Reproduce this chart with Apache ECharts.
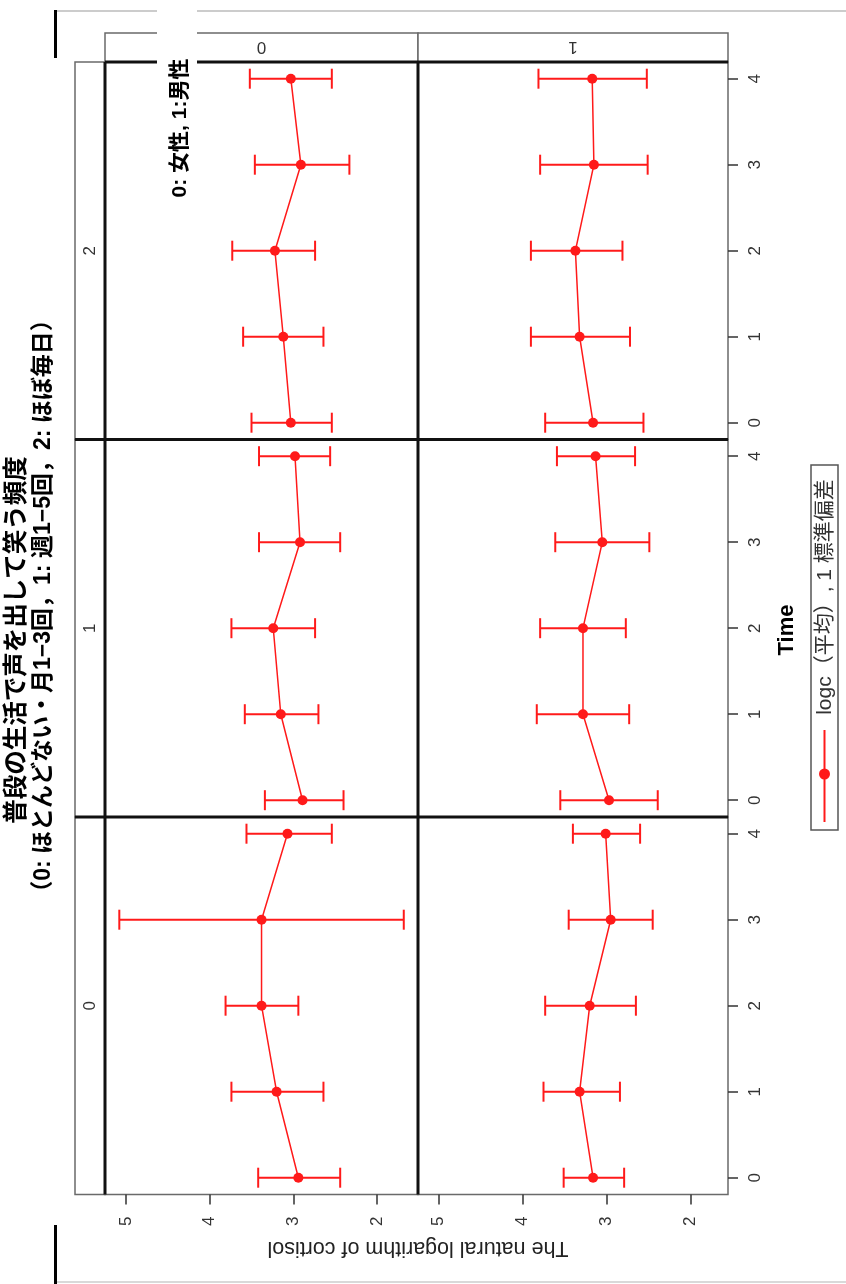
<!DOCTYPE html>
<html><head><meta charset="utf-8">
<script src="https://cdn.jsdelivr.net/npm/echarts@6/dist/echarts.min.js"></script>
<style>html,body{margin:0;padding:0;background:#fff}#c{width:846px;height:1284px}</style>
</head><body><div id="c"></div>
<script>
// ---- data ----
const times = [0, 1, 2, 3, 4];
const sexLabels = ['0', '1'];
const laughLabels = ['2', '1', '0']; // panel rows, top to bottom

// laugh = 2
const mean_l2_s0  = [3.03, 3.12, 3.22, 2.91, 3.03];
const lower_l2_s0 = [2.54, 2.64, 2.74, 2.33, 2.54];
const upper_l2_s0 = [3.50, 3.60, 3.73, 3.46, 3.52];
const mean_l2_s1  = [3.16, 3.32, 3.37, 3.15, 3.17];
const lower_l2_s1 = [2.56, 2.72, 2.81, 2.51, 2.52];
const upper_l2_s1 = [3.73, 3.90, 3.90, 3.79, 3.81];
// laugh = 1
const mean_l1_s0  = [2.89, 3.15, 3.24, 2.92, 2.98];
const lower_l1_s0 = [2.40, 2.70, 2.74, 2.44, 2.56];
const upper_l1_s0 = [3.34, 3.58, 3.74, 3.41, 3.41];
const mean_l1_s1  = [2.97, 3.28, 3.28, 3.05, 3.13];
const lower_l1_s1 = [2.39, 2.73, 2.77, 2.49, 2.66];
const upper_l1_s1 = [3.55, 3.83, 3.79, 3.61, 3.59];
// laugh = 0
const mean_l0_s0  = [2.94, 3.20, 3.38, 3.38, 3.07];
const lower_l0_s0 = [2.44, 2.64, 2.94, 1.68, 2.54];
const upper_l0_s0 = [3.42, 3.74, 3.81, 5.08, 3.56];
const mean_l0_s1  = [3.16, 3.32, 3.20, 2.95, 3.01];
const lower_l0_s1 = [2.79, 2.84, 2.65, 2.45, 2.60];
const upper_l0_s1 = [3.51, 3.75, 3.73, 3.45, 3.40];

const titleLine1 = '普段の生活で声を出して笑う頻度';
const titleLine2 = '（0: ほとんどない・月1−3回，1: 週1−5回，2: ほぼ毎日）';
const sexNote = '0: 女性, 1:男性';
const xTitle = 'Time';
const yTitle = 'The natural logarithm of cortisol';
const legendText = 'logc（平均）, 1 標準偏差';

// ---- layout ----
const panels = [
  [mean_l2_s0, lower_l2_s0, upper_l2_s0], [mean_l2_s1, lower_l2_s1, upper_l2_s1],
  [mean_l1_s0, lower_l1_s0, upper_l1_s0], [mean_l1_s1, lower_l1_s1, upper_l1_s1],
  [mean_l0_s0, lower_l0_s0, upper_l0_s0], [mean_l0_s1, lower_l0_s1, upper_l0_s1]
];
const RED = '#ff1a1a';
const FONT = '"Liberation Sans", "Noto Sans CJK JP", sans-serif';
// panel frames
const frameX = [105, 418], frameW = [313, 310];
const frameY = [62, 439.5, 817], frameH = 377.5;
// plotting areas (value 5..2 horizontally, time 4..0 vertically)
const gridX = [126, 438.5], gridW = [251, 252];
const gridPadTop = 16.7, gridH = 344;

const grid = [], xAxis = [], yAxis = [], series = [];
for (let r = 0; r < 3; r++) {
  for (let c = 0; c < 2; c++) {
    const gi = r * 2 + c;
    const gTop = frameY[r] + gridPadTop;
    grid.push({left: gridX[c], top: gTop, width: gridW[c], height: gridH, show: false});
    xAxis.push({gridIndex: gi, type: 'value', min: 2, max: 5, interval: 1, inverse: true,
      position: 'bottom', offset: (frameY[r] + frameH) - (gTop + gridH),
      axisLine: {show: false, onZero: false}, splitLine: {show: false},
      axisTick: {show: r === 2, length: 10, lineStyle: {color: '#333', width: 1.5}},
      axisLabel: {show: r === 2, rotate: 90, fontSize: 17, color: '#333', margin: 22, fontFamily: FONT}});
    yAxis.push({gridIndex: gi, type: 'value', min: 0, max: 4, interval: 1, position: 'right',
      offset: (frameX[c] + frameW[c]) - (gridX[c] + gridW[c]),
      axisLine: {show: false, onZero: false}, splitLine: {show: false},
      axisTick: {show: c === 1, length: 10, lineStyle: {color: '#333', width: 1.5}},
      axisLabel: {show: c === 1, rotate: 90, fontSize: 17, color: '#333', margin: 19, fontFamily: FONT}});
    const [m, lo, hi] = panels[gi];
    series.push({type: 'custom', xAxisIndex: gi, yAxisIndex: gi, silent: true, clip: false,
      data: times.map((t, i) => [t, lo[i], hi[i]]),
      renderItem: function (params, api) {
        const t = api.value(0);
        const p1 = api.coord([api.value(1), t]);
        const p2 = api.coord([api.value(2), t]);
        const h = 10, st = {stroke: RED, lineWidth: 2};
        return {type: 'group', children: [
          {type: 'line', shape: {x1: p1[0], y1: p1[1], x2: p2[0], y2: p2[1]}, style: st},
          {type: 'line', shape: {x1: p1[0], y1: p1[1] - h, x2: p1[0], y2: p1[1] + h}, style: st},
          {type: 'line', shape: {x1: p2[0], y1: p2[1] - h, x2: p2[0], y2: p2[1] + h}, style: st}
        ]};
      }});
    series.push({type: 'line', xAxisIndex: gi, yAxisIndex: gi, silent: true, clip: false,
      data: times.map((t, i) => [m[i], t]),
      symbol: 'circle', symbolSize: 10, lineStyle: {color: RED, width: 1.5},
      itemStyle: {color: RED}});
  }
}

function txt(x, y, text, size, rot, opts) {
  opts = opts || {};
  return {type: 'text', x: x, y: y, rotation: rot, z: 100,
    style: {text: text, fontSize: size, fontFamily: FONT, fontWeight: opts.bold ? 'bold' : 'normal',
      fill: opts.color || '#222', align: 'center', verticalAlign: 'middle',
      textAlign: 'center', textVerticalAlign: 'middle'}};
}
function ln(x1, y1, x2, y2, w, color, z) {
  return {type: 'line', z: z || 50, shape: {x1, y1, x2, y2}, style: {stroke: color, lineWidth: w}};
}
const H = Math.PI / 2;
const g = [];
// panel frames
for (let r = 0; r < 3; r++) for (let c = 0; c < 2; c++) {
  g.push({type: 'rect', z: -10, shape: {x: frameX[c], y: frameY[r], width: frameW[c], height: frameH},
    style: {fill: '#fff', stroke: '#6a6a6a', lineWidth: 1.5}});
}
// strips
for (let r = 0; r < 3; r++) {
  g.push({type: 'rect', z: 40, shape: {x: 75, y: frameY[r], width: 30, height: frameH}, style: {fill: '#fff', stroke: '#6a6a6a', lineWidth: 1.5}});
  g.push(txt(90, frameY[r] + frameH / 2, laughLabels[r], 17, H, {color: '#333'}));
}
for (let c = 0; c < 2; c++) {
  g.push({type: 'rect', z: 40, shape: {x: frameX[c], y: 33, width: frameW[c], height: 29}, style: {fill: '#fff', stroke: '#6a6a6a', lineWidth: 1.5}});
  g.push(txt(frameX[c] + frameW[c] / 2, 47, sexLabels[c], 17, Math.PI, {color: '#333'}));
}
// thick separators
const bottom = frameY[2] + frameH;
g.push(ln(105, 62, 105, bottom, 3, '#111'));
g.push(ln(418, 62, 418, bottom, 3, '#111'));
g.push(ln(105, 62, 728, 62, 3, '#111'));
g.push(ln(75, frameY[1], 728, frameY[1], 3, '#111'));
g.push(ln(75, frameY[2], 728, frameY[2], 3, '#111'));
// titles
g.push(txt(17, 640, titleLine1, 24.5, H, {bold: true, color: '#000'}));
g.push(txt(44, 606, titleLine2, 23, H, {bold: true, color: '#000'}));
g.push(txt(418, 1248, yTitle, 21.5, Math.PI, {color: '#222'}));
g.push(txt(787, 630, xTitle, 22, H, {bold: true, color: '#000'}));
// sex note overlay
g.push({type: 'rect', z: 90, shape: {x: 157, y: 0, width: 40, height: 66}, style: {fill: '#fff'}});
g.push(txt(180, 128, sexNote, 21, H, {bold: true, color: '#000'}));
// legend
g.push({type: 'rect', z: 40, shape: {x: 811, y: 465, width: 27, height: 365}, style: {fill: '#fff', stroke: '#555', lineWidth: 1.5}});
g.push(ln(824.5, 730, 824.5, 822, 2, RED));
g.push({type: 'circle', z: 60, shape: {cx: 824.5, cy: 774, r: 5.5}, style: {fill: RED}});
g.push(txt(825, 597, legendText, 21, H, {color: '#333'}));
// page frame marks
g.push(ln(57, 11, 846, 11, 1.5, '#bbb'));
g.push(ln(57, 1282, 846, 1282, 1.5, '#ccc'));
g.push(ln(55.5, 10, 55.5, 58, 3, '#000'));
g.push(ln(55.5, 1225, 55.5, 1284, 3, '#000'));

const chart = echarts.init(document.getElementById('c'), null, {renderer: 'canvas'});
chart.setOption({backgroundColor: '#fff', animation: false, grid, xAxis, yAxis, series, graphic: g});
</script></body></html>
